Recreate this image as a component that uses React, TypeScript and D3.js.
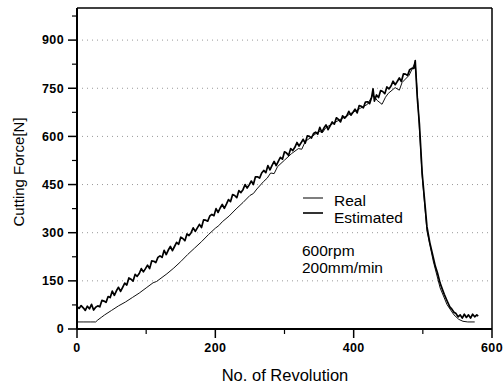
import React from "react";
import * as d3 from "d3";

const yMajorTicks = [0, 150, 300, 450, 600, 750, 900];
const yMinorTicks = [75, 225, 375, 525, 675, 825, 975];
const xMajorTicks = [0, 200, 400, 600];
const xMinorTicks = [100, 300, 500];
const gridValues = [150, 300, 450, 600, 750, 900];

const estRev = [0, 3, 6, 9, 12, 15, 18, 21, 24, 27, 30, 33, 36, 39, 42, 45, 48, 51, 54, 57, 60, 63, 66, 69, 72, 75, 78, 81, 84, 87, 90, 93, 96, 99, 102, 105, 108, 111, 114, 117, 120, 123, 126, 129, 132, 135, 138, 141, 144, 147, 150, 153, 156, 159, 162, 165, 168, 171, 174, 177, 180, 183, 186, 189, 192, 195, 198, 201, 204, 207, 210, 213, 216, 219, 222, 225, 228, 231, 234, 237, 240, 243, 246, 249, 252, 255, 258, 261, 264, 267, 270, 273, 276, 279, 282, 285, 288, 291, 294, 297, 300, 303, 306, 309, 312, 315, 318, 321, 324, 327, 330, 333, 336, 339, 342, 345, 348, 351, 354, 357, 360, 363, 366, 369, 372, 375, 378, 381, 384, 387, 390, 393, 396, 399, 402, 405, 408, 411, 414, 417, 420, 423, 426, 428, 430, 433, 436, 439, 442, 445, 448, 451, 454, 457, 460, 463, 466, 469, 472, 475, 478, 481, 484, 487, 489, 492, 495, 499, 503, 506, 510, 515, 518, 521, 525, 528, 531, 535, 539, 542, 545, 548, 551, 554, 557, 560, 563, 566, 569, 572, 575, 578, 580];
const estVal = [70, 64, 73, 66, 58, 71, 63, 77, 59, 68, 72, 69, 89, 87, 83, 101, 98, 118, 105, 119, 130, 117, 130, 143, 137, 159, 155, 149, 170, 164, 173, 188, 178, 188, 199, 188, 212, 211, 207, 223, 228, 223, 245, 232, 246, 257, 244, 257, 270, 264, 286, 282, 275, 296, 291, 300, 315, 304, 315, 326, 316, 340, 339, 336, 352, 357, 353, 375, 363, 377, 388, 376, 389, 403, 397, 419, 416, 409, 431, 425, 434, 450, 439, 449, 461, 450, 474, 474, 470, 486, 494, 487, 509, 496, 510, 522, 509, 522, 535, 529, 552, 548, 541, 562, 556, 566, 581, 570, 580, 591, 579, 602, 600, 595, 609, 613, 607, 628, 613, 626, 636, 621, 633, 645, 638, 658, 653, 645, 664, 657, 664, 678, 666, 675, 685, 673, 696, 694, 689, 707, 708, 702, 722, 748, 710, 729, 721, 743, 740, 733, 754, 748, 757, 772, 761, 771, 782, 771, 795, 794, 790, 808, 812, 812, 836, 720, 640, 486, 390, 318, 270, 224, 196, 176, 143, 125, 108, 88, 69, 62, 52, 48, 38, 44, 34, 46, 36, 44, 34, 46, 38, 44, 40];

const realRev = [0, 10, 20, 27, 30, 35, 40, 50, 60, 70, 80, 90, 100, 110, 115, 120, 130, 140, 150, 160, 170, 180, 190, 200, 205, 210, 220, 230, 240, 250, 255, 260, 270, 275, 280, 285, 290, 300, 310, 320, 325, 330, 340, 350, 355, 360, 370, 380, 390, 400, 410, 420, 428, 434, 441, 446, 450, 460, 466, 470, 480, 489, 493, 499, 506, 515, 525, 535, 545, 552, 558, 565, 575];
const realVal = [22, 22, 22, 22, 28, 36, 44, 58, 72, 84, 98, 112, 128, 144, 148, 156, 172, 190, 210, 232, 252, 272, 294, 314, 322, 334, 352, 374, 394, 416, 422, 436, 460, 470, 486, 484, 506, 526, 546, 562, 560, 584, 600, 616, 612, 628, 640, 652, 664, 676, 688, 700, 730, 712, 700, 722, 734, 752, 744, 768, 790, 830, 700, 478, 305, 212, 128, 76, 44, 30, 24, 22, 22];

export default function App() {
  const width = 503;
  const height = 385;
  const x = d3.scaleLinear().domain([0, 600]).range([77, 492]);
  const y = d3.scaleLinear().domain([0, 1000]).range([329, 8]);

  const line = d3
    .line<[number, number]>()
    .x((d) => x(d[0]))
    .y((d) => y(d[1]));

  const estData: [number, number][] = estRev.map((r, i) => [r, estVal[i]]);
  const realData: [number, number][] = realRev.map((r, i) => [r, realVal[i]]);

  const font = "'Liberation Sans', Arial, sans-serif";

  return (
    <svg
      width={width}
      height={height}
      style={{ position: "absolute", left: 0, top: 0, background: "#fff" }}
      fontFamily={font}
    >
      <rect x={0} y={0} width={width} height={height} fill="#fff" />
      {gridValues.map((v) => (
        <line
          key={"g" + v}
          x1={x(0)}
          x2={x(600)}
          y1={y(v)}
          y2={y(v)}
          stroke="#999"
          strokeWidth={1}
          strokeDasharray="1,4"
        />
      ))}
      <path d={line(realData) || ""} fill="none" stroke="#111" strokeWidth={1} />
      <path d={line(estData) || ""} fill="none" stroke="#000" strokeWidth={1.7} strokeLinejoin="round" />

      <line x1={x(0)} x2={x(600)} y1={y(1000)} y2={y(1000)} stroke="#000" strokeWidth={1.5} />
      <line x1={x(600)} x2={x(600)} y1={y(1000)} y2={y(0)} stroke="#000" strokeWidth={1.5} />
      <line x1={x(0)} x2={x(600)} y1={y(0)} y2={y(0)} stroke="#000" strokeWidth={2} />
      <line x1={x(0)} x2={x(0)} y1={y(1000)} y2={y(0)} stroke="#000" strokeWidth={2} />

      {yMajorTicks.map((v) => (
        <g key={"ym" + v}>
          <line x1={x(0) - 9} x2={x(0)} y1={y(v)} y2={y(v)} stroke="#000" strokeWidth={1.5} />
          <text
            x={x(0) - 13}
            y={y(v)}
            dy="0.35em"
            textAnchor="end"
            fontSize={12.5}
            fontWeight="bold"
            letterSpacing={0.4}
          >
            {v}
          </text>
        </g>
      ))}
      {yMinorTicks.map((v) => (
        <line key={"yn" + v} x1={x(0) - 5} x2={x(0)} y1={y(v)} y2={y(v)} stroke="#000" strokeWidth={1.2} />
      ))}
      {xMajorTicks.map((v) => (
        <g key={"xm" + v}>
          <line x1={x(v)} x2={x(v)} y1={y(0)} y2={y(0) + 9} stroke="#000" strokeWidth={1.5} />
          <text
            x={x(v)}
            y={y(0) + 23}
            textAnchor="middle"
            fontSize={12.5}
            fontWeight="bold"
            letterSpacing={0.4}
          >
            {v}
          </text>
        </g>
      ))}
      {xMinorTicks.map((v) => (
        <line key={"xn" + v} x1={x(v)} x2={x(v)} y1={y(0)} y2={y(0) + 5} stroke="#000" strokeWidth={1.2} />
      ))}

      <text x={285} y={381} textAnchor="middle" fontSize={16.5}>
        No. of Revolution
      </text>
      <text transform={`translate(24, 172) rotate(-90)`} textAnchor="middle" fontSize={15}>
        Cutting Force[N]
      </text>

      <line x1={303} x2={323} y1={198} y2={198} stroke="#555" strokeWidth={1.5} />
      <text x={334} y={206} fontSize={15.5}>
        Real
      </text>
      <line x1={303} x2={323} y1={213} y2={213} stroke="#000" strokeWidth={1.6} />
      <text x={334} y={223} fontSize={15.5}>
        Estimated
      </text>
      <text x={302} y={256} fontSize={15.5}>
        600rpm
      </text>
      <text x={302} y={273} fontSize={15.5}>
        200mm/min
      </text>
    </svg>
  );
}
